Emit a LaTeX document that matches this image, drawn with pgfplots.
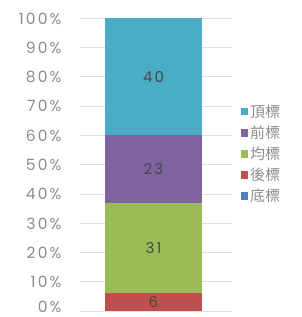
\documentclass[border=0pt]{standalone}
\usepackage{pgfplots}
\pgfplotsset{compat=1.18}
\usepackage{fontspec}
\setmainfont{Poppins}
\newfontfamily\tickfont[LetterSpace=14]{Poppins}
\newfontfamily\cjk{Noto Sans CJK TC}
\definecolor{cTop}{HTML}{4BACC6}
\definecolor{cFront}{HTML}{8064A2}
\definecolor{cAvg}{HTML}{9BBB59}
\definecolor{cBack}{HTML}{C0504D}
\definecolor{cBot}{HTML}{4F81BD}
\definecolor{txt}{HTML}{8C8C8C}
\begin{document}
\begin{tikzpicture}[x=1pt,y=1pt]
\useasboundingbox (0,0) rectangle (301,317);
\begin{axis}[
  at={(80pt,6pt)}, anchor=south west,
  scale only axis, width=152pt, height=293pt,
  xmin=0, xmax=152, ymin=0, ymax=100,
  ybar stacked, bar width=97pt,
  xtick=\empty,
  ytick={0,10,...,100},
  yticklabels={\raisebox{4pt}[10pt][0pt]{0\%},10\%,20\%,30\%,40\%,50\%,60\%,70\%,80\%,90\%,100\%},
  /pgf/number format/assume math mode=true,
  yticklabel style={font=\tickfont\fontsize{15.5}{16}\selectfont, text=txt, xshift=-15pt, yshift=-0.5pt},
  ymajorgrids, grid style={draw=black!12, line width=0.6pt},
  axis line style={draw=none}, major tick length=0pt,
  clip=false,
  nodes near coords,
  nodes near coords style={anchor=center, font=\tickfont\fontsize{15}{16}\selectfont, text=black!72},
  reverse legend,
  legend style={draw=none, fill=none, at={(1.035,0.536)}, anchor=west,
    font=\cjk\fontsize{15}{15}\selectfont, text=txt, row sep=3pt,
    /tikz/every even column/.append style={column sep=9pt}},
  legend cell align=left,
  legend image code/.code={\fill[#1,draw=none] (0pt,-3.75pt) rectangle (7.5pt,3.75pt);},
]
\addplot[fill=cBot, draw=none, nodes near coords=\empty] coordinates {(73.5,0)};
\addplot[fill=cBack, draw=none] coordinates {(73.5,6)};
\addplot[fill=cAvg, draw=none] coordinates {(73.5,31)};
\addplot[fill=cFront, draw=none] coordinates {(73.5,23)};
\addplot[fill=cTop, draw=none] coordinates {(73.5,40)};
\legend{底標,後標,均標,前標,頂標}
\end{axis}
\end{tikzpicture}
\end{document}
